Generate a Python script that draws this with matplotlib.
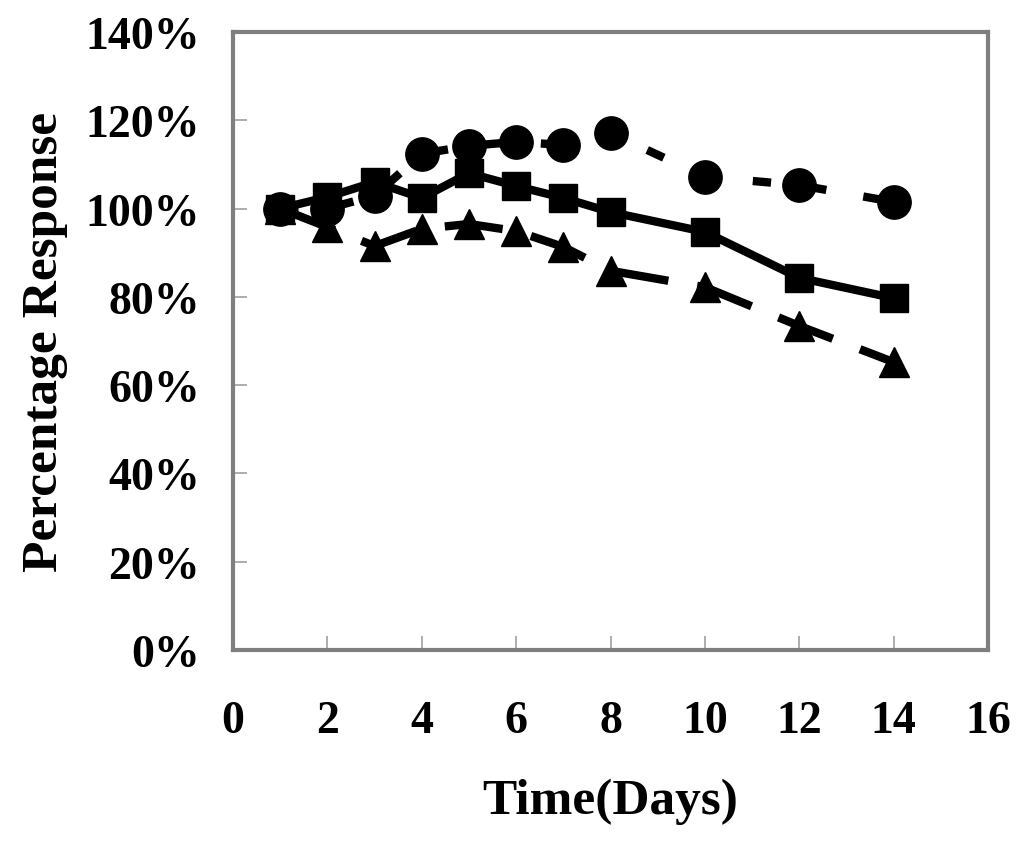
import matplotlib
matplotlib.use("Agg")
import matplotlib.pyplot as plt
from matplotlib.ticker import FuncFormatter

days = [1, 2, 3, 4, 5, 6, 7, 8, 10, 12, 14]
circles = [100, 100, 102.9, 112.4, 114.2, 115.1, 114.4, 117.1, 107.2, 105.3, 101.5]
squares = [100, 102.6, 106.0, 102.4, 108.0, 105.1, 102.4, 99.2, 94.7, 84.3, 79.7]
triangles = [100, 95.8, 91.5, 95.4, 96.5, 94.9, 91.3, 85.9, 82.2, 73.4, 65.2]

xticks = [0, 2, 4, 6, 8, 10, 12, 14, 16]
yticks = [0, 20, 40, 60, 80, 100, 120, 140]

plt.rcParams['font.family'] = ['Liberation Serif', 'DejaVu Serif']
plt.rcParams['font.weight'] = 'bold'

fig = plt.figure(figsize=(10.24, 8.45), dpi=100)
ax = fig.add_axes([0.2275, 0.2296, 0.965 - 0.2275, 0.961 - 0.2296])

lw = 6
ax.plot(days, circles, color='black', lw=lw, linestyle=(0, (2.2, 4.5)),
        marker='o', markersize=24, zorder=3)
ax.plot(days, squares, color='black', lw=lw, linestyle='-',
        marker='s', markersize=20, zorder=4)
ax.plot(days, triangles, color='black', lw=lw, linestyle=(0, (7, 3.5)),
        marker='^', markersize=21, zorder=5)

ax.set_xlim(0, 16)
ax.set_ylim(0, 140)
ax.set_xticks(xticks)
ax.set_yticks(yticks)
ax.yaxis.set_major_formatter(FuncFormatter(lambda v, p: f"{int(v)}%"))

for s in ax.spines.values():
    s.set_color('#7f7f7f')
    s.set_linewidth(3)

ax.tick_params(axis='both', direction='in', length=10, width=1.2, color='#a0a0a0',
               labelsize=33, colors='#a0a0a0', labelcolor='black')
ax.tick_params(axis='y', pad=24)
ax.tick_params(axis='x', pad=36)
for lab in ax.get_xticklabels() + ax.get_yticklabels():
    lab.set_fontweight('bold')

ax.set_xlabel('Time(Days)', fontsize=37, fontweight='bold', labelpad=26)
ax.set_ylabel('Percentage Response', fontsize=37, fontweight='bold', labelpad=12)

fig.savefig('out.png', dpi=100)
